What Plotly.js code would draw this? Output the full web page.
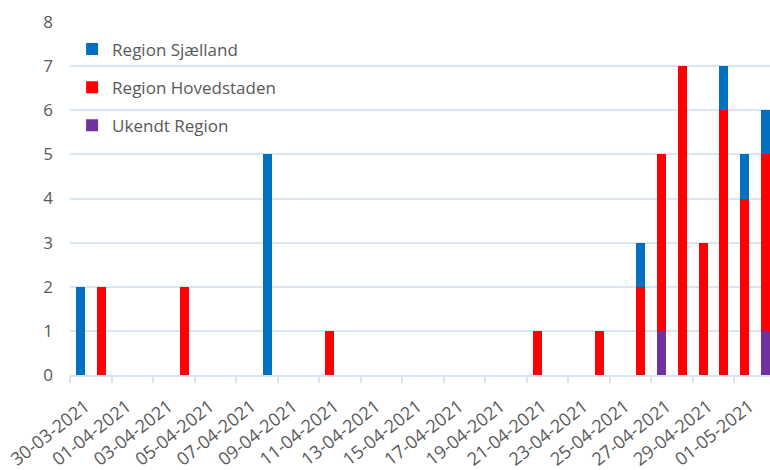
<!DOCTYPE html>
<html>
<head>
<meta charset="utf-8">
<script src="https://cdn.plot.ly/plotly-3.0.1.min.js"></script>
<style>
  html, body { margin: 0; padding: 0; background: #fff; }
  #chart { width: 770px; height: 470px; }
</style>
</head>
<body>
<div id="chart"></div>
<script>
// Daily categories
var dates = [
  "30-03-2021","31-03-2021","01-04-2021","02-04-2021","03-04-2021","04-04-2021",
  "05-04-2021","06-04-2021","07-04-2021","08-04-2021","09-04-2021","10-04-2021",
  "11-04-2021","12-04-2021","13-04-2021","14-04-2021","15-04-2021","16-04-2021",
  "17-04-2021","18-04-2021","19-04-2021","20-04-2021","21-04-2021","22-04-2021",
  "23-04-2021","24-04-2021","25-04-2021","26-04-2021","27-04-2021","28-04-2021",
  "29-04-2021","30-04-2021","01-05-2021","02-05-2021"
];
var ukendt = [0,0,0,0,0,0, 0,0,0,0,0,0, 0,0,0,0,0,0, 0,0,0,0,0,0, 0,0,0,0,1,0, 0,0,0,1];
var hovedstaden = [0,2,0,0,0,2, 0,0,0,0,0,0, 1,0,0,0,0,0, 0,0,0,0,1,0, 0,1,0,2,4,7, 3,6,4,4];
var sjaelland = [2,0,0,0,0,0, 0,0,0,5,0,0, 0,0,0,0,0,0, 0,0,0,0,0,0, 0,0,0,1,0,0, 0,1,1,1];
var seriesNames = ["Ukendt Region", "Region Hovedstaden", "Region Sjælland"];
var yTicks = [0,1,2,3,4,5,6,7,8];

var colors = ["#7030A0", "#FF0000", "#0070C0"];
var ranks = [3, 2, 1];
var values = [ukendt, hovedstaden, sjaelland];
var traces = values.map(function (v, i) {
  return {
    type: "bar",
    name: seriesNames[i],
    x: dates,
    y: v,
    legendgroup: "g" + i,
    legendrank: ranks[i],
    marker: { color: colors[i], line: { width: 0 } },
    hoverinfo: "x+y+name"
  };
});

var gridColor = "#dae5f3";
var textColor = "#595959";
var layout = {
  width: 770,
  height: 470,
  margin: { l: 70, r: 0, t: 22, b: 95 },
  paper_bgcolor: "#ffffff",
  plot_bgcolor: "#ffffff",
  barmode: "stack",
  bargap: 0.565,
  font: { family: "Open Sans, sans-serif", size: 17, color: textColor },
  showlegend: true,
  legend: {
    x: 0.003, y: 0.973, xanchor: "left", yanchor: "top",
    traceorder: "grouped",
    tracegroupgap: 13,
    bgcolor: "rgba(0,0,0,0)",
    font: { family: "Open Sans, sans-serif", size: 17, color: textColor },
    itemwidth: 30
  },
  xaxis: {
    type: "category",
    categoryorder: "array",
    categoryarray: dates,
    range: [-0.5, 33.22],
    tickmode: "linear",
    tick0: 0,
    dtick: 2,
    tickson: "boundaries",
    ticks: "outside",
    ticklen: 6,
    tickwidth: 2,
    tickcolor: gridColor,
    tickangle: -38,
    ticklabelstandoff: 12,
    ticklabelshift: 5,
    showline: true,
    linecolor: gridColor,
    linewidth: 2,
    showgrid: false,
    zeroline: false,
    tickfont: { family: "Open Sans, sans-serif", size: 18, color: textColor },
    fixedrange: true
  },
  yaxis: {
    range: [0, 8],
    tickvals: yTicks,
    showgrid: true,
    gridcolor: gridColor,
    gridwidth: 2,
    zeroline: false,
    showline: false,
    ticks: "",
    ticklabelstandoff: 16,
    tickfont: { family: "Open Sans, sans-serif", size: 17, color: textColor },
    fixedrange: true
  }
};

Plotly.newPlot("chart", traces, layout, { displayModeBar: false, staticPlot: true });
</script>
</body>
</html>
